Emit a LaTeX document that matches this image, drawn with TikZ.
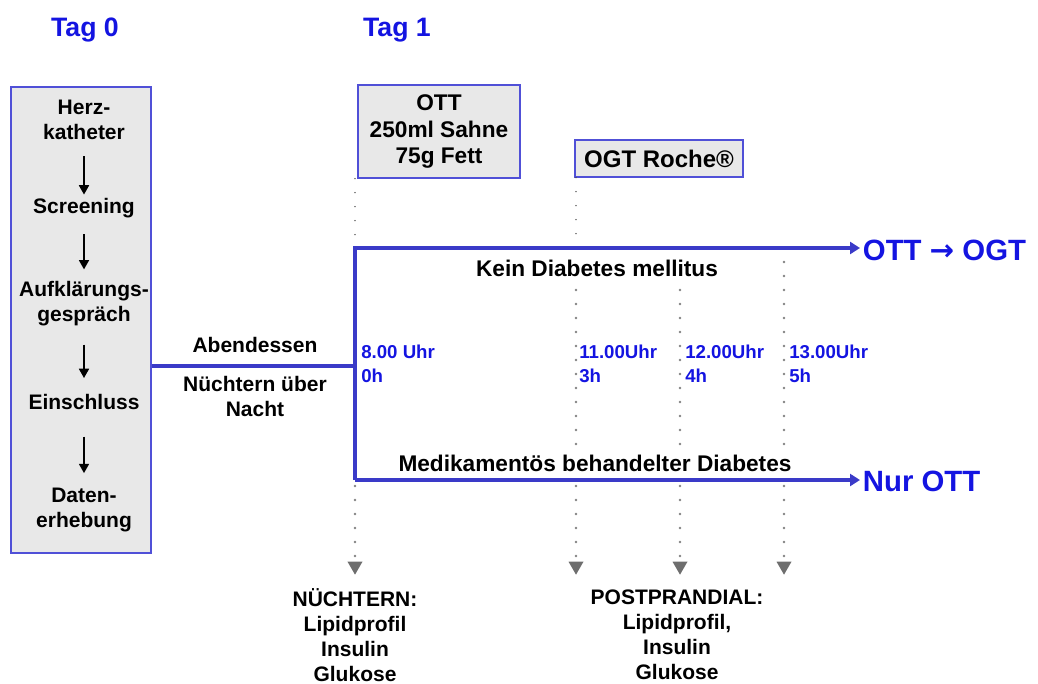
\documentclass[tikz,border=0pt]{standalone}
\usepackage{fontspec}
\setmainfont{Liberation Sans}
\newfontfamily\arrowfont{DejaVu Sans}
\usetikzlibrary{arrows.meta,shapes.geometric}
\definecolor{tagblue}{RGB}{20,20,225}
\definecolor{flowblue}{RGB}{58,58,200}
\definecolor{panelline}{RGB}{80,80,215}
\definecolor{panelfill}{RGB}{232,232,232}
\definecolor{dotgray}{RGB}{130,130,130}
\tikzset{
  panel/.style={draw=panelline, fill=panelfill, line width=1pt, align=center, inner sep=0pt},
  plain/.style={font=\fontsize{15.75}{18.75}\selectfont\bfseries, align=center, inner sep=1pt},
  big/.style={font=\fontsize{17}{20}\selectfont\bfseries, align=center},
  taglbl/.style={font=\fontsize{20}{24}\selectfont\bfseries, text=tagblue},
  result/.style={font=\fontsize{22}{26}\selectfont\bfseries, text=tagblue, anchor=west, inner sep=2pt},
  timelbl/.style={font=\fontsize{14}{18}\selectfont\bfseries, text=tagblue, align=left, anchor=west, inner sep=0pt},
  steparrow/.style={-{Triangle[length=7pt,width=7.5pt]}, line width=1.3pt},
  flow/.style={draw=flowblue, line width=3pt},
  dots/.style={dotgray, line width=2.2pt, line cap=round, dash pattern=on 0pt off 10.5pt},
  finedots/.style={black!70, line width=1.2pt, line cap=round, dash pattern=on 0pt off 10.5pt},
  marker/.style={regular polygon, regular polygon sides=3, shape border rotate=180, fill=dotgray!85!black, inner sep=0pt, minimum size=13pt}
}
\begin{document}
\begin{tikzpicture}[x=0.75pt,y=0.75pt,yscale=-1,xscale=1]
\useasboundingbox (0,0) rectangle (1038,684);

% Day headings
\node[taglbl] (tag0) at (85,30) {Tag 0};
\node[taglbl] (tag1) at (397,30) {Tag 1};

%Shape: Rectangle, day 0 panel
\node[panel, minimum width=105pt, minimum height=349.5pt] (tagbox) at (81,320) {};
% Text Node
\node[plain] (herz) at (84,120) {Herz-\\katheter};
\node[plain] (screen) at (84,208) {Screening};
\node[plain] (aufkl) at (84,304) {Aufklärungs-\\gespräch};
\node[plain] (einschl) at (84,402) {Einschluss};
\node[plain] (daten) at (84,510) {Daten-\\erhebung};
\draw[steparrow, shorten <=11pt, shorten >=1.5pt] (herz) -- (screen);
\draw[steparrow, shorten <=11pt, shorten >=8pt] (screen) -- (aufkl);
\draw[steparrow, shorten <=12.5pt, shorten >=11pt] (aufkl) -- (einschl);
\draw[steparrow, shorten <=19pt, shorten >=10pt] (einschl) -- (daten);

%Shape: Rectangle, test boxes
\node[panel, big, minimum width=121.5pt, minimum height=69.75pt] (ott) at (439,131.5) {OTT\\250ml Sahne\\75g Fett};
\node[panel, big, font=\fontsize{18}{20}\selectfont\bfseries, minimum width=126pt, minimum height=27.75pt] (ogt) at (659,158.5) {OGT Roche®};

% Branch points
\coordinate (split) at (355,366);
\coordinate (top) at (355,248);
\coordinate (bot) at (355,480);
\coordinate (top4) at (680,248);
\coordinate (top5) at (784,248);

% Sampling markers
\node[marker] (m0) at (355,566) {};
\node[marker] (m3) at (576,566) {};
\node[marker] (m4) at (680,566) {};
\node[marker] (m5) at (784,566) {};

%Dotted Lines
\draw[finedots] (ott.south -| top) -- (top);
\draw[finedots] (ogt.south -| m3) -- (m3 |- top);
\draw[dots] (top) -- (m0.north);
\draw[dots] (m3 |- top) -- (m3.north);
\draw[dots] (top4) -- (m4.north);
\draw[dots] (top5) -- (m5.north);

% Text Node
\node[big, fill=white, inner sep=2pt] (kein) at (597,268) {Kein Diabetes mellitus};
\node[big, fill=white, inner sep=2pt] (medik) at (595,463) {Medikamentös behandelter Diabetes};
\node[plain] (abend) at (255,345) {Abendessen};
\node[plain] (nacht) at (255,396) {Nüchtern über\\Nacht};

% Results
\node[result] (ottogt) at (860,250) {OTT {\arrowfont\bfseries →} OGT};
\node[result] (nurott) at (860,481) {Nur OTT};

%Straight Lines
\draw[flow] (tagbox.east |- split) -- (split);
\draw[flow, -{Triangle[length=7.5pt,width=9pt]}] (bot) -- (top) -- (ottogt.west |- top);
\draw[flow, -{Triangle[length=7.5pt,width=9pt]}] (bot) -- (nurott.west |- bot);

% Time labels
\node[timelbl] (t0) at (361,364) {8.00 Uhr\\0h};
\node[timelbl] (t3) at (579,364) {11.00Uhr\\3h};
\node[timelbl] (t4) at (685,364) {12.00Uhr\\4h};
\node[timelbl] (t5) at (789,364) {13.00Uhr\\5h};

% Lab panels
\node[plain] (nuecht) at (355,635) {NÜCHTERN:\\Lipidprofil\\Insulin\\Glukose};
\node[plain] (postpr) at (677,635) {POSTPRANDIAL:\\Lipidprofil,\\Insulin\\Glukose};
\end{tikzpicture}
\end{document}
